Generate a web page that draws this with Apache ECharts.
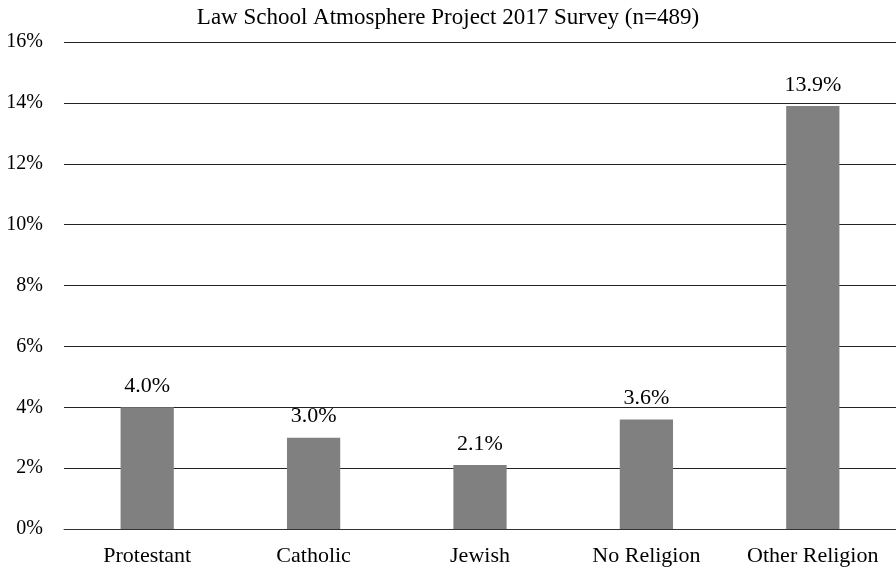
<!DOCTYPE html>
<html>
<head>
<meta charset="utf-8">
<title>Law School Atmosphere Project 2017 Survey</title>
<script src="https://cdn.jsdelivr.net/npm/echarts@6/dist/echarts.min.js"></script>
<style>
  html, body { margin: 0; padding: 0; background: #ffffff; }
  #chart { width: 896px; height: 572px; }
</style>
</head>
<body>
<div id="chart"></div>
<script>
// Survey categories and their shares (percent)
const categories = ['Protestant', 'Catholic', 'Jewish', 'No Religion', 'Other Religion'];
const shares = [4.0, 3.0, 2.1, 3.6, 13.9];
const chartTitle = 'Law School Atmosphere Project 2017 Survey (n=489)';

const serif = '"Liberation Serif", "Times New Roman", Times, serif';

const chart = echarts.init(document.getElementById('chart'), null, { renderer: 'canvas' });

chart.setOption({
  animation: false,
  backgroundColor: '#ffffff',
  title: {
    text: chartTitle,
    left: 'center',
    top: 1,
    textStyle: { fontFamily: serif, fontSize: 23, fontWeight: 'normal', color: '#000' }
  },
  grid: { left: 64, right: 0, top: 42, bottom: 43, containLabel: false },
  xAxis: {
    type: 'category',
    data: categories,
    axisLine: { show: true, lineStyle: { color: '#333', width: 1 } },
    axisTick: { show: false },
    axisLabel: {
      interval: 0, hideOverlap: false,
      fontFamily: serif, fontSize: 22, color: '#000', margin: 16
    }
  },
  yAxis: {
    type: 'value',
    min: 0,
    max: 16,
    interval: 2,
    axisLine: { show: false },
    axisTick: { show: false },
    axisLabel: {
      fontFamily: serif, fontSize: 20, color: '#000', margin: 21,
      formatter: v => v + '%'
    },
    splitLine: { show: true, lineStyle: { color: '#222', width: 1 } }
  },
  series: [{
    type: 'bar',
    data: shares,
    barWidth: '32%',
    itemStyle: { color: '#808080' },
    label: {
      show: true,
      position: 'top',
      distance: 10,
      fontFamily: serif,
      fontSize: 22,
      color: '#000',
      formatter: p => p.value.toFixed(1) + '%'
    }
  }]
});
</script>
</body>
</html>
